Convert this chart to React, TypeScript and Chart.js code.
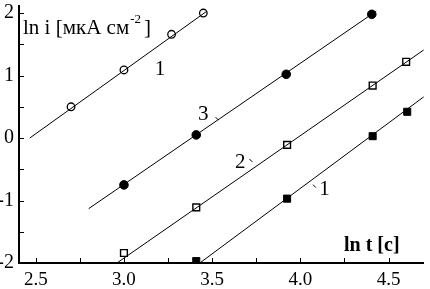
import React, { useEffect, useRef } from 'react';
import { Chart, registerables } from 'chart.js';

Chart.register(...registerables);

// Series 1 (open circles)
const s1X = [2.70, 3.0, 3.27, 3.45];
const s1Y = [0.50, 1.09, 1.66, 2.0];
// Series 3 (filled circles)
const s3X = [3.0, 3.41, 3.92, 4.405];
const s3Y = [-0.75, 0.05, 1.02, 1.98];
// Series 2 (open squares)
const s2X = [3.0, 3.41, 3.925, 4.41, 4.60];
const s2Y = [-1.84, -1.11, -0.11, 0.84, 1.22];
// Series 1' (filled squares)
const s1bX = [3.41, 3.925, 4.41, 4.606];
const s1bY = [-1.97, -0.97, 0.03, 0.42];

// Fitted lines (end points)
const fit1X = [2.466, 3.47];
const fit1Y = [0.0, 2.03];
const fit3X = [2.80, 4.43];
const fit3Y = [-1.13, 2.03];
const fit2X = [2.96, 4.70];
const fit2Y = [-2.0, 1.41];
const fit1bX = [3.43, 4.70];
const fit1bY = [-2.0, 0.66];

// Curve labels
const curveLabels = ['1', '3', '2', '1'];
const curveLabelX = [3.204, 3.45, 3.66, 4.137];
const curveLabelY = [1.094, 0.375, -0.39, -0.83];
const leaderX = [3.528, 3.72, 4.08];
const leaderY = [0.31, -0.36, -0.77];

const xMin = 2.405;
const xMax = 4.70;
const yMin = -2;
const yMax = 2.11;

const yTitle = 'ln i [мкА см';
const yTitleSup = '-2';
const yTitleEnd = ']';
const xTitle = 'ln t [с]';

const FONT = "'Liberation Serif', 'Times New Roman', serif";

const pts = (xs: number[], ys: number[]) => xs.map((x, i) => ({ x, y: ys[i] }));

const decor = {
  id: 'decor',
  afterDraw(chart: any) {
    const { ctx, chartArea, scales } = chart;
    const x = scales.x;
    const y = scales.y;
    ctx.save();
    ctx.strokeStyle = '#000';
    ctx.lineWidth = 1;
    // inward ticks
    x.ticks.forEach((t: any) => {
      const px = Math.round(x.getPixelForValue(t.value)) + 0.5;
      ctx.beginPath();
      ctx.moveTo(px, chartArea.bottom - 1);
      ctx.lineTo(px, chartArea.bottom - 5);
      ctx.stroke();
    });
    y.ticks.forEach((t: any) => {
      const py = Math.round(y.getPixelForValue(t.value)) + 0.5;
      ctx.beginPath();
      ctx.moveTo(chartArea.left + 1, py);
      ctx.lineTo(chartArea.left + 5, py);
      ctx.stroke();
    });
    // curve labels
    ctx.fillStyle = '#000';
    ctx.font = `21px ${FONT}`;
    ctx.textAlign = 'center';
    ctx.textBaseline = 'middle';
    curveLabels.forEach((lab, i) => {
      ctx.fillText(lab, x.getPixelForValue(curveLabelX[i]), y.getPixelForValue(curveLabelY[i]));
    });
    leaderX.forEach((lx, i) => {
      const px = x.getPixelForValue(lx);
      const py = y.getPixelForValue(leaderY[i]);
      ctx.beginPath();
      ctx.moveTo(px - 1.5, py - 1.5);
      ctx.lineTo(px + 1.5, py + 1.5);
      ctx.stroke();
    });
    // axis titles
    ctx.textAlign = 'left';
    ctx.textBaseline = 'alphabetic';
    ctx.font = `21px ${FONT}`;
    let tx = chartArea.left + 4;
    const ty = chartArea.top + 28;
    ctx.fillText(yTitle, tx, ty);
    tx += ctx.measureText(yTitle).width;
    ctx.font = `13px ${FONT}`;
    ctx.fillText(yTitleSup, tx + 1, ty - 11);
    tx += ctx.measureText(yTitleSup).width + 4;
    ctx.font = `21px ${FONT}`;
    ctx.fillText(yTitleEnd, tx, ty);
    ctx.font = `bold 20px ${FONT}`;
    ctx.fillText(xTitle, chartArea.left + 325, chartArea.bottom - 12);
    ctx.restore();
  },
};

export default function App() {
  const ref = useRef<HTMLCanvasElement | null>(null);
  useEffect(() => {
    if (!ref.current) return;
    const line = (xs: number[], ys: number[]) => ({
      type: 'line' as const,
      data: pts(xs, ys),
      borderColor: '#000',
      borderWidth: 1,
      pointRadius: 0,
      showLine: true,
      fill: false,
    });
    const chart = new Chart(ref.current, {
      type: 'scatter',
      data: {
        datasets: [
          line(fit1X, fit1Y),
          line(fit3X, fit3Y),
          line(fit2X, fit2Y),
          line(fit1bX, fit1bY),
          {
            data: pts(s1X, s1Y), pointStyle: 'circle', pointRadius: 3.8,
            backgroundColor: '#fff', borderColor: '#000', borderWidth: 1.3,
          },
          {
            data: pts(s3X, s3Y), pointStyle: 'circle', pointRadius: 4.3,
            backgroundColor: '#000', borderColor: '#000', borderWidth: 1,
          },
          {
            data: pts(s2X, s2Y), pointStyle: 'rect', pointRadius: 4.8,
            backgroundColor: '#fff', borderColor: '#000', borderWidth: 1.4,
          },
          {
            data: pts(s1bX, s1bY), pointStyle: 'rect', pointRadius: 5,
            backgroundColor: '#000', borderColor: '#000', borderWidth: 1,
          },
        ] as any,
      },
      options: {
        animation: false,
        responsive: false,
        devicePixelRatio: 1,
        layout: { padding: 0 },
        plugins: { legend: { display: false }, tooltip: { enabled: false } },
        scales: {
          x: {
            type: 'linear',
            min: xMin,
            max: xMax,
            grid: { display: false, drawTicks: false },
            border: { display: true, width: 2, color: '#000' },
            ticks: {
              stepSize: 0.25,
              includeBounds: false,
              autoSkip: false,
              maxRotation: 0,
              padding: 6,
              color: '#000',
              font: { family: FONT, size: 19 },
              callback: (v: any) => (Math.abs(v * 2 - Math.round(v * 2)) < 1e-6 ? Number(v).toFixed(1) : ''),
            },
            afterFit: (s: any) => { s.height = 26; s.paddingLeft = 0; s.paddingRight = 0; },
          },
          y: {
            type: 'linear',
            min: yMin,
            max: yMax,
            grid: { display: false, drawTicks: false },
            border: { display: true, width: 2, color: '#000' },
            ticks: {
              stepSize: 0.5,
              includeBounds: false,
              autoSkip: false,
              padding: 5,
              color: '#000',
              font: { family: FONT, size: 20 },
              callback: (v: any) => (Math.abs(v - Math.round(v)) < 1e-6 ? String(Math.round(v)) : ''),
            },
            afterFit: (s: any) => { s.width = 19; s.paddingTop = 0; s.paddingBottom = 0; },
          },
        },
      } as any,
      plugins: [decor],
    });
    return () => chart.destroy();
  }, []);
  return (
    <div style={{ position: 'fixed', left: 0, top: 0, width: 430, height: 289, background: '#fff' }}>
      <canvas ref={ref} width={430} height={289} style={{ width: 430, height: 289, display: 'block' }} />
    </div>
  );
}
